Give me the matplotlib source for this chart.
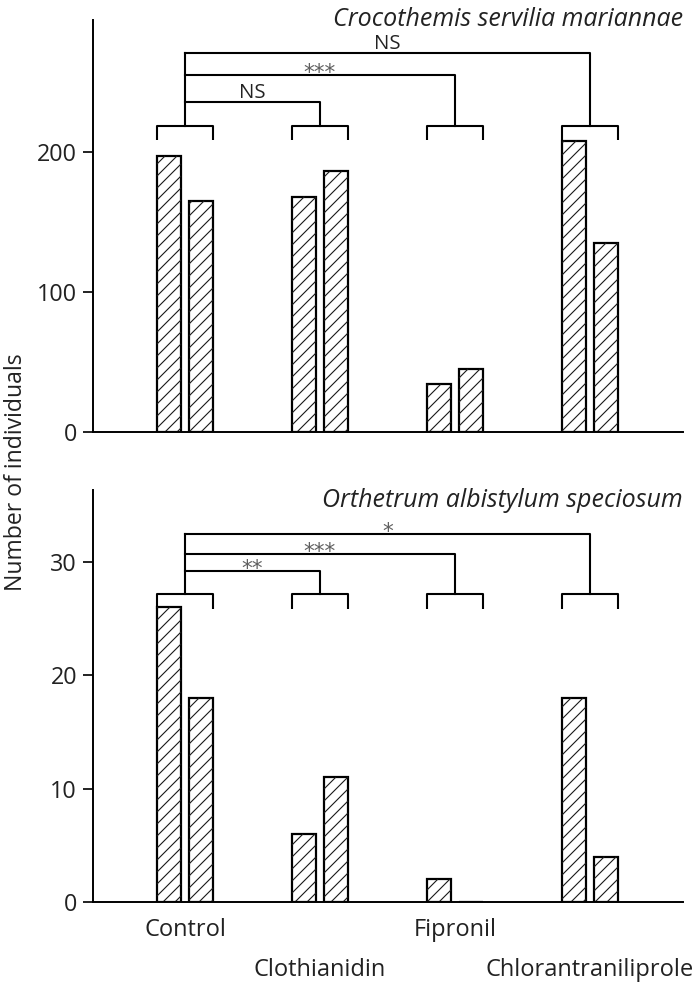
import matplotlib
matplotlib.use("Agg")
import matplotlib.pyplot as plt
from matplotlib.collections import LineCollection
from matplotlib.transforms import IdentityTransform
import numpy as np

plt.rcParams['font.family'] = ['Open Sans', 'DejaVu Sans']

# ---- data ----
groups = ["Control", "Clothianidin", "Fipronil", "Chlorantraniliprole"]
top_species = "Crocothemis servilia mariannae"
bot_species = "Orthetrum albistylum speciosum"
top_bar1 = [197, 168, 34, 208]
top_bar2 = [165, 186, 45, 135]
bot_bar1 = [26, 6, 2, 18]
bot_bar2 = [18, 11, 0, 4]
top_yticks = [0, 100, 200]
bot_yticks = [0, 10, 20, 30]
top_ylim = 294
bot_ylim = 36.3
# significance comparisons: (target group index, label)
top_sig = [(1, "NS"), (2, "***"), (3, "NS")]
bot_sig = [(1, "**"), (2, "***"), (3, "*")]
# bracket levels (data units): group bracket top, tick bottom, comparison lines
top_levels = dict(bracket=218.6, tick=208.6, lines=[235.8, 254.7, 270.8])
bot_levels = dict(bracket=27.1, tick=25.8, lines=[29.2, 30.7, 32.4])

DPI = 100
W, H = 700, 993
fig = plt.figure(figsize=(W / DPI, H / DPI), dpi=DPI)

def px2pt(p):
    return p * 72.0 / DPI

left = 93 / W
right = 683 / W
ax_top = fig.add_axes([left, 1 - 432 / H, right - left, (432 - 20) / H])
ax_bot = fig.add_axes([left, 1 - 902 / H, right - left, (902 - 490) / H])

x = np.arange(len(groups))
off = 16 / 135
bw = 24 / 135
half = off + bw / 2
TXT = '#222222'

def hatch_bars(ax, bars, spacing=12.0):
    for rect in bars:
        if rect.get_height() <= 0:
            continue
        bb = rect.get_window_extent()
        x0, y0, x1, y1 = bb.x0, bb.y0, bb.x1, bb.y1
        n0 = int(np.floor((y0 - x1) / spacing))
        n1 = int(np.ceil((y1 - x0) / spacing))
        segs = []
        for n in range(n0, n1 + 1):
            c = n * spacing
            xa = max(x0, y0 - c)
            xb = min(x1, y1 - c)
            if xb - xa > 0.5:
                segs.append([(xa, xa + c), (xb, xb + c)])
        lc = LineCollection(segs, transform=IdentityTransform(), colors='#1a1a1a',
                            linewidths=0.8, zorder=rect.get_zorder() + 0.1)
        ax.add_collection(lc, autolim=False)

def draw(ax, b1, b2, ylim, yticks, levels, sig):
    ax.set_xlim(-92 / 135, 3 + 93 / 135)
    ax.set_ylim(0, ylim)
    bars1 = ax.bar(x - off, b1, bw, facecolor='white', edgecolor='black', linewidth=1.6, zorder=2)
    bars2 = ax.bar(x + off, b2, bw, facecolor='white', edgecolor='black', linewidth=1.6, zorder=2)
    hatch_bars(ax, list(bars1) + list(bars2))
    for s in ['top', 'right']:
        ax.spines[s].set_visible(False)
    for s in ['left', 'bottom']:
        ax.spines[s].set_linewidth(1.4)
        ax.spines[s].set_zorder(3)
    ax.set_yticks(yticks)
    ax.tick_params(axis='y', direction='out', length=px2pt(10), width=1.4,
                   labelsize=16.8, pad=px2pt(6), colors=TXT)
    ax.set_xticks([])
    lw = 1.5
    for g in x:
        ax.plot([g - half, g - half, g + half, g + half],
                [levels['tick'], levels['bracket'], levels['bracket'], levels['tick']],
                color='black', lw=lw, solid_capstyle='butt')
    ax.plot([0, 0], [levels['bracket'], max(levels['lines'])], color='black', lw=lw)
    for (tgt, lab), yl in zip(sig, levels['lines']):
        ax.plot([0, tgt, tgt], [yl, yl, levels['bracket']], color='black', lw=lw)
        if lab == "NS":
            ax.annotate(lab, xy=(tgt / 2, yl), xytext=(0, px2pt(4)), textcoords='offset points',
                        ha='center', va='baseline', fontsize=14.7, color=TXT)
        else:
            ax.annotate(lab, xy=(tgt / 2, yl), xytext=(0, px2pt(-4)), textcoords='offset points',
                        ha='center', va='baseline', fontsize=15.5, color='#606060',
                        family='DejaVu Sans')

draw(ax_top, top_bar1, top_bar2, top_ylim, top_yticks, top_levels, top_sig)
draw(ax_bot, bot_bar1, bot_bar2, bot_ylim, bot_yticks, bot_levels, bot_sig)

for i, g in enumerate(groups):
    dy = -28 if i % 2 == 0 else -68
    ax_bot.annotate(g, xy=(i, 0), xycoords=('data', 'axes fraction'),
                    xytext=(0, px2pt(dy)), textcoords='offset points',
                    ha='center', va='center', fontsize=17, color=TXT)

fig.text(683 / W, 1 - 26 / H, top_species, ha='right', va='baseline',
         fontsize=18, style='italic', color=TXT)
fig.text(683 / W, 1 - 507 / H, bot_species, ha='right', va='baseline',
         fontsize=18, style='italic', color=TXT)
fig.text(16 / W, 1 - 472 / H, "Number of individuals", rotation=90,
         ha='center', va='center', fontsize=16.6, color=TXT)

fig.savefig("out.png", dpi=DPI)
